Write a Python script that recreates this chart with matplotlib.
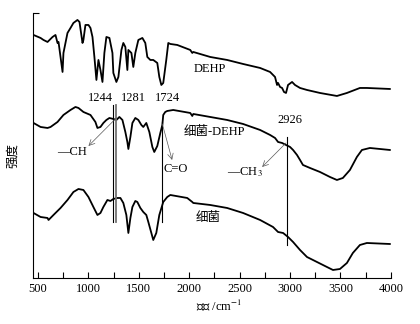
import matplotlib
matplotlib.use("Agg")
import matplotlib.pyplot as plt
from matplotlib.ticker import MultipleLocator

plt.rcParams["font.family"] = ["Liberation Serif", "Noto Sans CJK SC"]
plt.rcParams["mathtext.fontset"] = "stix"

# wavenumber (cm-1) / relative intensity
dehp_wn = [455, 525, 554, 594, 644, 673, 693, 703, 743, 752, 792, 822, 851, 891, 911,
           941, 950, 970, 1000, 1020, 1040, 1059, 1079, 1099, 1119, 1139, 1158, 1178,
           1208, 1238, 1247, 1277, 1297, 1327, 1346, 1366, 1386, 1396, 1426, 1445, 1465,
           1495, 1535, 1564, 1584, 1614, 1643, 1683, 1703, 1723, 1742, 1772, 1792, 1812,
           1881, 2010, 2030, 2040, 2208, 2376, 2534, 2703, 2802, 2851, 2871, 2881, 2901,
           2921, 2940, 2960, 2980, 3020, 3049, 3099, 3168, 3297, 3465, 3564, 3693, 3762, 3990]
dehp_int = [243, 240, 238, 236, 241, 243, 235, 236, 206, 225, 245, 250, 255, 258, 256,
            235, 238, 253, 253, 250, 241, 221, 198, 218, 208, 196, 225, 241,
            240, 225, 205, 196, 201, 228, 235, 231, 208, 228, 225, 211, 225,
            238, 240, 235, 221, 218, 218, 215, 201, 193, 195, 218, 235, 234,
            233, 228, 225, 226, 221, 218, 214, 210, 206, 201, 193, 195, 191,
            190, 186, 185, 193, 196, 193, 190, 188, 185, 182, 185, 190, 190, 189]

mix_wn = [455, 525, 594, 624, 693, 752, 822, 871, 901, 950, 1020, 1069, 1089, 1119, 1148,
          1178, 1208, 1247, 1277, 1307, 1337, 1366, 1386, 1396, 1416, 1436, 1465, 1495,
          1525, 1544, 1574, 1604, 1634, 1653, 1683, 1713, 1733, 1742, 1762, 1782, 1841,
          2010, 2030, 2040, 2208, 2376, 2534, 2703, 2802, 2851, 2881, 2921, 2960, 3000,
          3030, 3069, 3099, 3128, 3198, 3297, 3396, 3465, 3524, 3594, 3663, 3713, 3792, 3990]
mix_int = [155, 151, 150, 151, 156, 163, 168, 171, 170, 166, 163, 156, 150, 151, 155,
           158, 160, 159, 158, 161, 158, 146, 136, 129, 141, 155, 160, 158,
           153, 151, 155, 146, 131, 126, 132, 145, 153, 163, 166, 167, 168,
           165, 162, 164, 161, 158, 154, 148, 143, 140, 136, 135, 133, 131,
           128, 123, 118, 113, 110, 106, 101, 98, 100, 108, 121, 128, 130, 128]

bact_wn = [455, 525, 594, 604, 653, 723, 792, 851, 901, 950, 1000, 1049, 1089, 1119, 1148,
           1188, 1218, 1247, 1287, 1317, 1346, 1376, 1396, 1416, 1436, 1465, 1485, 1515,
           1544, 1574, 1594, 1624, 1643, 1673, 1703, 1742, 1782, 1812, 1980, 2030, 2040,
           2208, 2376, 2534, 2703, 2831, 2881, 2931, 2980, 3030, 3099, 3168, 3267, 3366,
           3426, 3495, 3564, 3623, 3693, 3762, 3990]
bact_int = [65, 61, 60, 58, 63, 70, 78, 86, 89, 88, 81, 71, 63, 65, 71,
            78, 77, 79, 80, 80, 75, 63, 45, 60, 71, 77, 76, 70,
            66, 63, 56, 45, 38, 45, 63, 76, 81, 83, 80, 76, 75,
            73, 70, 65, 58, 51, 46, 45, 41, 36, 28, 21, 16, 11,
            8, 9, 15, 25, 33, 35, 34]

# marked bands: drawn position, label, line span, label position
peak_pos = [1240, 1278, 1730, 2965]
peak_labels = ["1244", "1281", "1724", "2926"]
peak_y0 = [56, 56, 56, 33]
peak_y1 = [173, 173, 156, 141]
peak_colors = ["black", "0.45", "black", "black"]
peak_lw = [0.8, 1.3, 0.8, 0.8]
label_x = [1119, 1445, 1782, 3000]
label_y = [180, 180, 180, 158]

fig = plt.figure(figsize=(4.2, 3.24), dpi=100)
ax = fig.add_axes([0.0786, 0.142, 0.852, 0.818])

ax.plot(dehp_wn, dehp_int, color="black", lw=1.3)
ax.plot(mix_wn, mix_int, color="black", lw=1.3)
ax.plot(bact_wn, bact_int, color="black", lw=1.3)

for p, y0, y1, c, lw in zip(peak_pos, peak_y0, peak_y1, peak_colors, peak_lw):
    ax.plot([p, p], [y0, y1], color=c, lw=lw)
for t, x, y in zip(peak_labels, label_x, label_y):
    ax.text(x, y, t, fontsize=9, ha="center", va="center")

ax.text(2042, 209, "DEHP", fontsize=9, ha="left", va="center")
ax.text(1940, 146, "细菌-DEHP", fontsize=9, ha="left", va="center")
ax.text(2059, 60, "细菌", fontsize=9, ha="left", va="center")

# group annotations with thin arrows
arrow = dict(arrowstyle="->", color="0.35", lw=0.5, shrinkA=0, shrinkB=0)
ax.annotate("", xy=(1000, 132), xytext=(1277, 160), arrowprops=arrow)
ax.text(980, 126, "—CH", fontsize=9, ha="right", va="center")
ax.annotate("", xy=(1830, 118), xytext=(1733, 154), arrowprops=arrow)
ax.text(1742, 109, "C=O", fontsize=9, ha="left", va="center")
ax.annotate("", xy=(2723, 111), xytext=(2960, 135), arrowprops=arrow)
ax.text(2376, 106, "—CH$_3$", fontsize=9, ha="left", va="center")

ax.set_xlim(450, 4000)
ax.set_ylim(0, 265)
ax.xaxis.set_major_locator(MultipleLocator(500))
ax.xaxis.set_minor_locator(MultipleLocator(250))
ax.tick_params(axis="x", which="both", direction="in", length=4, width=0.8,
               labelsize=9, top=False)
ax.set_yticks([265])
ax.set_yticklabels([])
ax.tick_params(axis="y", direction="in", length=4, width=0.8)
for s in ["top", "right"]:
    ax.spines[s].set_visible(False)
for s in ["left", "bottom"]:
    ax.spines[s].set_linewidth(0.8)

fig.text(219 / 420, 1 - 306 / 324, "波数 /cm$^{-1}$", fontsize=9, ha="center", va="center")
fig.text(13 / 420, 1 - 155 / 324, "强度", fontsize=9, rotation=90, ha="center", va="center")

fig.savefig("out.png", dpi=100)
